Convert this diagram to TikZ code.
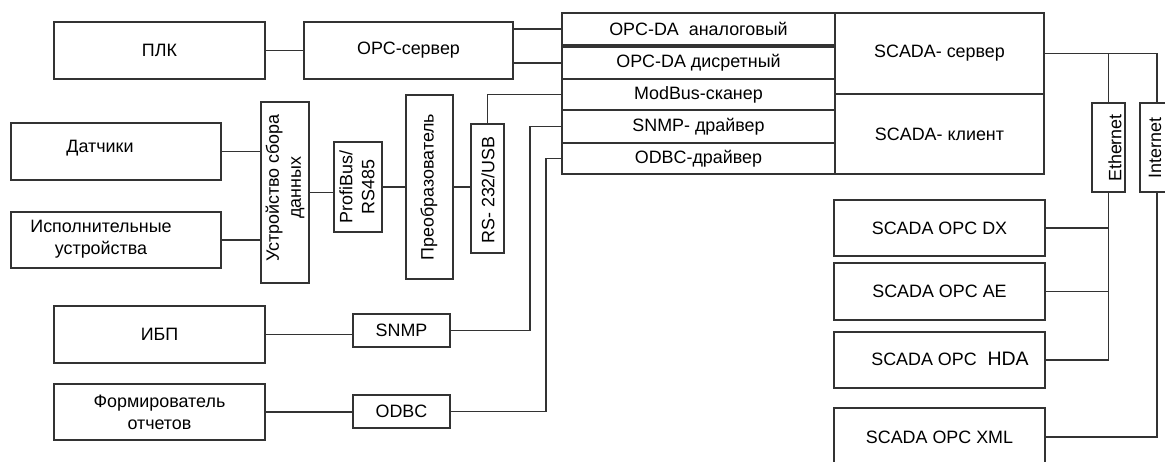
\documentclass[tikz,border=0pt]{standalone}
\usepackage{fontspec}
\setmainfont{Liberation Sans}
\begin{document}
\begin{tikzpicture}[x=1pt,y=-1pt,
  lc/.style={draw=black!80, line width=1.4pt},
  bx/.style={lc, rectangle, inner sep=0pt, outer sep=0pt, font=\fontsize{17.9}{22}\selectfont, align=center},
  txt/.style={inner sep=0pt, font=\fontsize{17.9}{22}\selectfont, align=center},
  wire/.style={lc}]
\fill[white] (0,0) rectangle (1165,461);
\useasboundingbox (0,0) rectangle (1165,461);

% left column
\node[bx, minimum width=211pt, minimum height=57pt] (plc) at (159.5,50.5) {ПЛК};
\node[bx, minimum width=209pt, minimum height=57pt] (opc) at (408.5,50.5) {OPC-сервер};
\node[bx, minimum width=210pt, minimum height=57pt] (dat) at (116,151.5) {};
\node[txt] (datt) at (100,148) {Датчики};
\node[bx, minimum width=210pt, minimum height=56pt] (isp) at (116,240) {};
\node[txt] (ispt) at (101,239) {Исполнительные\\устройства};
\node[bx, minimum width=48pt, minimum height=181pt] (usd) at (285,192.5) {};
\node[txt, rotate=90] (usdt) at (285,188) {Устройство сбора\\данных};
\node[bx, minimum width=48pt, minimum height=90pt] (prof) at (358,187) {};
\node[txt, rotate=90] (proft) at (357,187) {ProfiBus/\\RS485};
\node[bx, minimum width=47pt, minimum height=184pt] (preo) at (429.5,187) {};
\node[txt, rotate=90] (preot) at (429,187) {Преобразователь};
\node[bx, minimum width=33pt, minimum height=129pt] (rs) at (487.5,188.5) {};
\node[txt, rotate=90] (rst) at (488,190) {RS- 232/USB};
\node[bx, minimum width=211pt, minimum height=57pt] (ibp) at (159.5,334.5) {ИБП};
\node[bx, minimum width=211pt, minimum height=56pt] (form) at (159.5,412) {Формирователь\\отчетов};
\node[bx, minimum width=97pt, minimum height=33pt] (snmp) at (401.5,330.5) {SNMP};
\node[bx, minimum width=97pt, minimum height=33pt] (odbc) at (401.5,411.5) {ODBC};

% driver stack
\node[bx, minimum width=273pt, minimum height=32pt] (r1) at (698.5,29) {OPC-DA\ \ аналоговый};
\node[bx, minimum width=273pt, minimum height=32pt] (r2) at (698.5,63) {OPC-DA дисретный};
\node[bx, minimum width=273pt, minimum height=31pt] (r3) at (698.5,94.5) {ModBus-сканер};
\node[bx, minimum width=273pt, minimum height=33pt] (r4) at (698.5,126.5) {SNMP- драйвер};
\node[bx, minimum width=273pt, minimum height=31pt] (r5) at (698.5,158.5) {ODBC-драйвер};
\node[bx, minimum width=209pt, minimum height=81pt] (srv) at (939.5,53.5) {SCADA- сервер};
\node[bx, minimum width=209pt, minimum height=80pt] (cli) at (939.5,134) {SCADA- клиент};

% SCADA OPC boxes
\node[bx, minimum width=211pt, minimum height=56pt] (dx) at (939.5,228) {SCADA OPC DX};
\node[bx, minimum width=211pt, minimum height=57pt] (ae) at (939.5,291.5) {SCADA OPC AE};
\node[bx, minimum width=211pt, minimum height=56pt] (hda) at (939.5,360) {};
\node[txt] (hdat) at (950,359) {SCADA OPC\hspace{0.6em}{\fontsize{19.5}{22}\selectfont HDA}};
\node[bx, minimum width=211pt, minimum height=58pt] (xml) at (939.5,437) {SCADA OPC XML};

% networks
\node[bx, minimum width=33pt, minimum height=89pt] (eth) at (1108.5,147.5) {};
\node[txt, rotate=90] (etht) at (1115,148) {Ethernet};
\node[bx, minimum width=34pt, minimum height=89pt] (inet) at (1157,147.5) {};
\node[txt, rotate=90] (inett) at (1155,148) {Internet};

\coordinate (snmpx) at (530,0);
\coordinate (odbcx) at (546,0);

% connectors
\draw[wire] (plc.east) -- (opc.west);
\draw[wire] (opc.east |- r1.west) -- (r1.west);
\draw[wire] (opc.east |- r2.west) -- (r2.west);
\draw[wire] (dat.east) -- (dat.east -| usd.west);
\draw[wire] (isp.east) -- (isp.east -| usd.west);
\draw[wire] (usd.east) -- (usd.east -| prof.west);
\draw[wire] (prof.east) -- (preo.west);
\draw[wire] (preo.east) -- (preo.east -| rs.west);
\draw[wire] (rs.north) |- (r3.west);
\draw[wire] (ibp.east) -- (ibp.east -| snmp.west);
\draw[wire] (snmp.east) -| (snmpx |- r4.west) -- (r4.west);
\draw[wire] (form.east) -- (form.east -| odbc.west);
\draw[wire] (odbc.east) -| (odbcx |- r5.west) -- (r5.west);
\draw[wire] (srv.east) -- (inet.north |- srv.east) -- (inet.north);
\draw[wire] (eth.north |- srv.east) -- (eth.north);
\draw[wire] (eth.south) -- (eth.south |- hda.east) -- (hda.east);
\draw[wire] (dx.east) -- (dx.east -| eth.south);
\draw[wire] (ae.east) -- (ae.east -| eth.south);
\draw[wire] (inet.south) |- (xml.east);
\end{tikzpicture}
\end{document}
